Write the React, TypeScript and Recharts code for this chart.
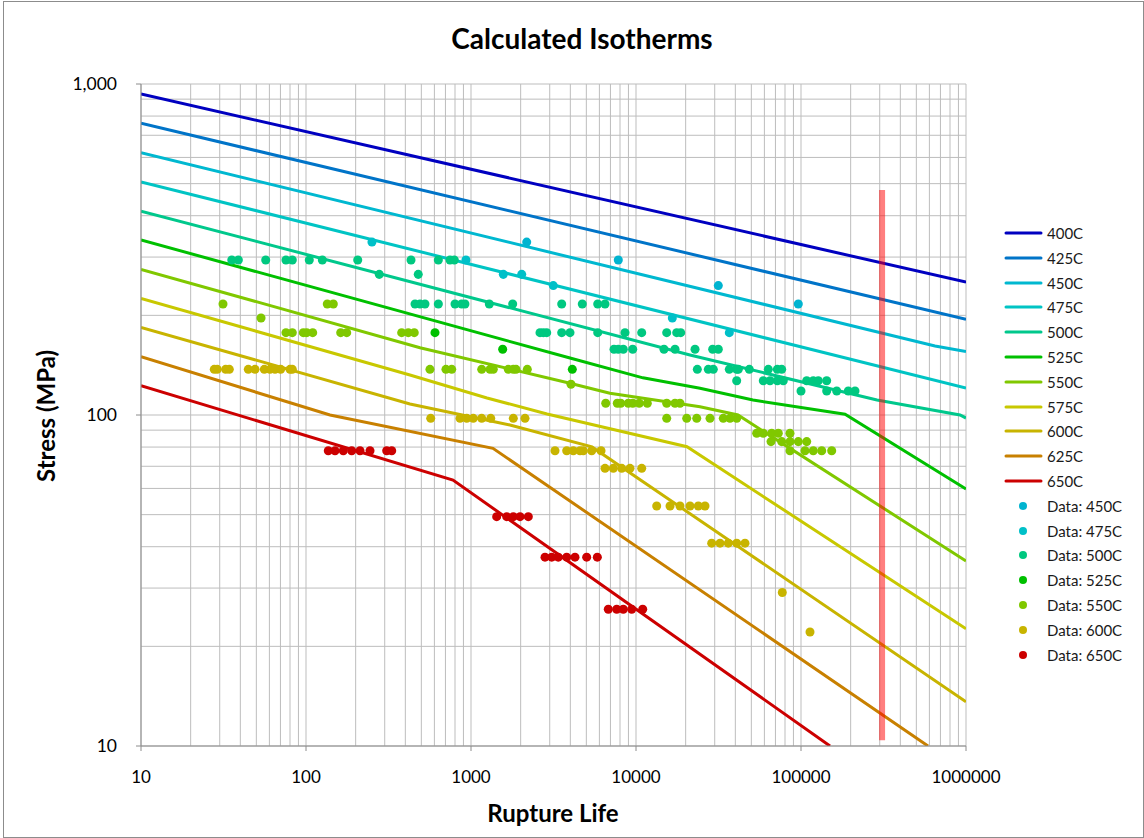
import React from 'react';
import { ComposedChart, Line, Scatter, XAxis, YAxis, CartesianGrid, Legend } from 'recharts';

// isotherm curves: [rupture life (h), stress (MPa)]
const iso400 = [[10, 933], [1000000, 252]];
const iso425 = [[10, 761], [1000000, 194.5]];
const iso450 = [[10, 620], [649000, 161.6], [1000000, 155.5]];
const iso475 = [[10, 506], [1000000, 120.6]];
const iso500 = [[10, 413], [21230, 151.8], [288800, 111], [920000, 100], [1000000, 97.9]];
const iso525 = [[10, 338], [3981, 148.6], [11020, 129.5], [24430, 120.4], [51170, 111], [184900, 100.5], [1000000, 59.8]];
const iso550 = [[10, 275.5], [491, 159.7], [3981, 124.7], [6950, 116.3], [24430, 105.9], [41500, 100], [1000000, 36.2]];
const iso575 = [[10, 225], [426.6, 132.1], [1250, 112.6], [2890, 100.7], [20370, 80.2], [1000000, 22.6]];
const iso600 = [[10, 184], [426.6, 108], [1722, 93.3], [5410, 80.1], [1000000, 13.6]];
const iso625 = [[10, 150], [139.8, 100], [1359, 79.3], [588500, 10]];
const iso650 = [[10, 122.6], [778, 63.6], [149900, 10]];

// test data grouped by stress level: [stress, lives[]]
const data450: [number, number[]][] = [
  [333, [2176]],
  [294, [7811]],
  [246, [31540]],
  [216.4, [96300]],
];
const data475: [number, number[]][] = [
  [333, [251]],
  [294, [932]],
  [266, [1570, 2029]],
  [246, [3153]],
  [196.4, [16600]],
  [177.3, [36770]],
];
const data500: [number, number[]][] = [
  [294, [35.5, 38.9, 57.0, 75.6, 82.6, 104.7, 125.6, 205.8, 433, 634, 746, 792]],
  [266, [278, 479]],
  [216.4, [458, 491, 526, 634, 800, 878, 919, 1291, 1789, 3546, 4726, 5862, 6490]],
  [177.3, [2619, 2743, 2876, 3546, 3981, 5862, 8576, 10830, 15350, 17650, 18660]],
  [158, [7358, 7811, 8375, 9550, 14780, 17240, 22790, 29160, 31540]],
  [137.4, [23530, 27430, 29410, 36770, 40760, 41690, 48620, 63380, 71850, 76380]],
  [126.9, [40760, 59080, 64900, 71850, 78110, 108300, 118700, 127300, 143100]],
  [118.2, [100000, 143100, 164600, 193500, 212500]],
];
const data525: [number, number[]][] = [
  [177.3, [605]],
  [158, [1556]],
  [137.4, [4111]],
];
const data550: [number, number[]][] = [
  [216.4, [31.4, 134.6, 146.4]],
  [196.4, [53.4]],
  [177.3, [75.6, 82.6, 96.3, 101, 109.8, 162.3, 176.5, 380, 417, 453]],
  [137.4, [564, 705, 764, 1161, 1304, 1365, 1683, 1805, 1874, 2194]],
  [123.8, [4037]],
  [108.5, [6554, 7702, 8077, 8981, 9550, 10470, 11710, 15350, 17240, 18480]],
  [97.7, [15350, 20290, 23340, 28090, 33810, 37130, 40760]],
  [88.1, [53880, 59080, 66450, 72850, 85760]],
  [83.1, [65810, 76380, 85760, 96300, 108300]],
  [78.0, [85760, 105700, 118700, 133500, 153500]],
];
const data600: [number, number[]][] = [
  [137.4, [27.8, 29.0, 32.6, 34.3, 44.7, 49.1, 55.9, 60.5, 64.9, 70.2, 80.0, 82.6]],
  [97.7, [570, 858, 942, 1032, 1161, 1317, 1805, 2125]],
  [78.0, [3229, 3802, 4169, 4577, 4793, 5388, 6138]],
  [69.0, [6490, 7286, 8190, 9197, 10830]],
  [53.1, [13350, 16080, 18480, 21250, 23860, 26190]],
  [41.0, [28760, 32300, 36250, 40760, 45770]],
  [29.1, [77030]],
  [22.1, [113400]],
];
const data650: [number, number[]][] = [
  [78.0, [136.5, 149.9, 168.3, 189.2, 212.5, 244.3, 308.4, 330.7]],
  [49.3, [1431, 1646, 1805, 1982, 2225]],
  [37.2, [2809, 3084, 3381, 3802, 4268, 5025, 5829]],
  [25.9, [6795, 7640, 8375, 9417, 10980]],
];

// design life marker
const marker = [[310000, 478], [310000, 10.4]];

const lifeDecades = [10, 100, 1000, 10000, 100000, 1000000];
const stressDecades = [10, 100, 1000];

const isotherms = [
  { name: '400C', color: '#0000C0', pts: iso400 },
  { name: '425C', color: '#0074C8', pts: iso425 },
  { name: '450C', color: '#00B8D0', pts: iso450 },
  { name: '475C', color: '#00C4C4', pts: iso475 },
  { name: '500C', color: '#00C88C', pts: iso500 },
  { name: '525C', color: '#00C000', pts: iso525 },
  { name: '550C', color: '#80C800', pts: iso550 },
  { name: '575C', color: '#C8C800', pts: iso575 },
  { name: '600C', color: '#C8B400', pts: iso600 },
  { name: '625C', color: '#C88000', pts: iso625 },
  { name: '650C', color: '#CC0000', pts: iso650 },
];

const datasets = [
  { name: 'Data: 450C', color: '#00B4D0', groups: data450 },
  { name: 'Data: 475C', color: '#00C0C8', groups: data475 },
  { name: 'Data: 500C', color: '#00C880', groups: data500 },
  { name: 'Data: 525C', color: '#00C000', groups: data525 },
  { name: 'Data: 550C', color: '#80C800', groups: data550 },
  { name: 'Data: 600C', color: '#C8B400', groups: data600 },
  { name: 'Data: 650C', color: '#CC0000', groups: data650 },
];

const toXY = (pts: number[][]) => pts.map(([x, y]) => ({ x, y }));
const flatten = (groups: [number, number[]][]) =>
  groups.flatMap(([s, lives]) => lives.map((l) => ({ x: l, y: s })));

const withMinors = (decades: number[]) =>
  decades.flatMap((d, i) => (i === decades.length - 1 ? [d] : [1, 2, 3, 4, 5, 6, 7, 8, 9].map((m) => d * m)));

const lifeTicks = withMinors(lifeDecades);
const stressTicks = withMinors(stressDecades);

const isDecade = (v: number) => Math.abs(Math.log10(v) - Math.round(Math.log10(v))) < 1e-6;

const FONT = 'Lato, "Open Sans", sans-serif';

const XTick = (props: any) => {
  const { x, y, payload } = props;
  if (!isDecade(payload.value)) return <g />;
  return (
    <g>
      <line x1={x} x2={x} y1={y} y2={y + 5} stroke="#8c8c8c" />
      <text x={x} y={y + 37} textAnchor="middle" fontSize={17} fontFamily={FONT} fill="#000">
        {String(payload.value)}
      </text>
    </g>
  );
};

const YTick = (props: any) => {
  const { x, y, payload } = props;
  if (!isDecade(payload.value)) return <g />;
  return (
    <g>
      <line x1={x - 5} x2={x} y1={y} y2={y} stroke="#8c8c8c" />
      <text x={x - 24} y={y + 6} textAnchor="end" fontSize={17.5} fontFamily={FONT} fill="#000">
        {payload.value.toLocaleString('en-US')}
      </text>
    </g>
  );
};

const LegendContent = () => (
  <div style={{ fontFamily: FONT, fontSize: 15, color: '#1a1a1a' }}>
    {isotherms.map((s) => (
      <div key={s.name} style={{ height: 24.8, display: 'flex', alignItems: 'center' }}>
        <svg width={44} height={10}>
          <line x1={3} x2={38} y1={5} y2={5} stroke={s.color} strokeWidth={3} strokeLinecap="round" />
        </svg>
        <span>{s.name}</span>
      </div>
    ))}
    {datasets.map((s) => (
      <div key={s.name} style={{ height: 24.8, display: 'flex', alignItems: 'center' }}>
        <svg width={44} height={10}>
          <circle cx={20} cy={5} r={4} fill={s.color} />
        </svg>
        <span>{s.name}</span>
      </div>
    ))}
  </div>
);

export default function App() {
  return (
    <div style={{ position: 'absolute', left: 0, top: 0, width: 1144, height: 838, background: '#fff' }}>
      <div
        style={{
          position: 'absolute', left: 3, top: 1, width: 1141, height: 837,
          border: '1px solid #8c8c8c', boxSizing: 'border-box',
        }}
      />
      <div
        style={{
          position: 'absolute', left: 582, top: 38, transform: 'translate(-50%, -50%)',
          fontFamily: FONT, fontWeight: 700, fontSize: 28, whiteSpace: 'nowrap', color: '#000',
        }}
      >
        Calculated Isotherms
      </div>
      <div
        style={{
          position: 'absolute', left: 45, top: 416, transform: 'translate(-50%, -50%) rotate(-90deg)',
          fontFamily: FONT, fontWeight: 700, fontSize: 24, whiteSpace: 'nowrap', color: '#000',
        }}
      >
        Stress (MPa)
      </div>
      <div
        style={{
          position: 'absolute', left: 553, top: 812, transform: 'translate(-50%, -50%)',
          fontFamily: FONT, fontWeight: 700, fontSize: 24, whiteSpace: 'nowrap', color: '#000',
        }}
      >
        Rupture Life
      </div>
      <div style={{ position: 'absolute', left: 0, top: 0 }}>
        <ComposedChart width={1144} height={838} margin={{ top: 84, right: 178, bottom: 62, left: 81 }}>
          <CartesianGrid stroke="#bdbdbd" strokeWidth={1} />
          <XAxis
            dataKey="x"
            type="number"
            scale="log"
            domain={[10, 1000000]}
            ticks={lifeTicks}
            interval={0}
            allowDataOverflow
            height={30}
            tickSize={0}
            tickMargin={0}
            tickLine={false}
            tick={XTick}
            axisLine={{ stroke: '#8c8c8c' }}
          />
          <YAxis
            dataKey="y"
            type="number"
            scale="log"
            domain={[10, 1000]}
            ticks={stressTicks}
            interval={0}
            allowDataOverflow
            width={60}
            tickSize={0}
            tickMargin={0}
            tickLine={false}
            tick={YTick}
            axisLine={{ stroke: '#8c8c8c' }}
          />
          {isotherms.map((s) => (
            <Line
              key={s.name}
              data={toXY(s.pts)}
              dataKey="y"
              name={s.name}
              type="linear"
              stroke={s.color}
              strokeWidth={3}
              dot={false}
              activeDot={false}
              isAnimationActive={false}
            />
          ))}
          {datasets.map((s) => (
            <Scatter
              key={s.name}
              data={flatten(s.groups)}
              name={s.name}
              fill={s.color}
              isAnimationActive={false}
            />
          ))}
          <Line
            data={toXY(marker)}
            dataKey="y"
            type="linear"
            stroke="rgba(255, 0, 0, 0.5)"
            strokeWidth={6}
            strokeLinecap="butt"
            dot={false}
            activeDot={false}
            legendType="none"
            isAnimationActive={false}
          />
          <Legend
            layout="vertical"
            align="center"
            verticalAlign="middle"
            wrapperStyle={{ left: 1003, top: 220.6, width: 141 }}
            content={LegendContent}
          />
        </ComposedChart>
      </div>
    </div>
  );
}
